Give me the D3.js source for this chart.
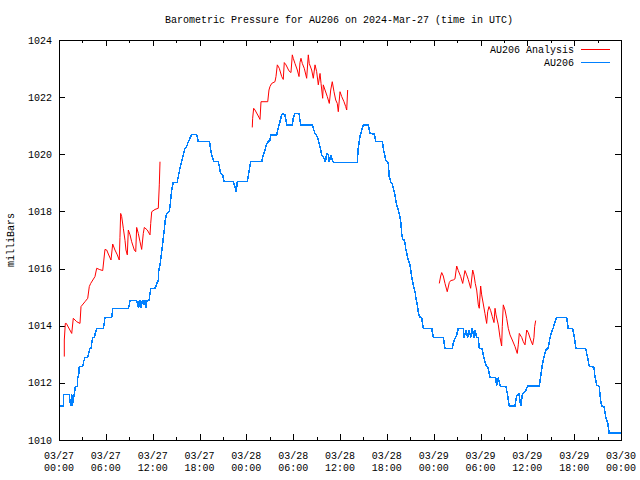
<!DOCTYPE html>
<html><head><meta charset="utf-8">
<script src="https://cdn.jsdelivr.net/npm/d3@7"></script>
<style>body{margin:0;background:#fff}svg{display:block}text{font-family:"Liberation Mono","DejaVu Sans Mono",monospace;font-size:10px;fill:#000}</style>
</head><body>
<script>
// hours since 2024-03-27 00:00 UTC, pressure in mbar
const blueHours = [0,0.55,0.55,1.32,1.41,1.5,1.63,1.7,1.83,1.96,2.09,2.34,2.34,2.52,2.6,3.04,3.16,3.33,3.68,3.84,3.97,4.1,4.23,4.32,4.52,4.65,4.83,5.68,5.8,5.89,6.75,6.83,6.88,8.88,9.01,9.1,9.95,10.08,10.21,10.29,10.47,10.54,10.67,10.8,10.93,11.02,11.15,11.27,11.53,11.66,11.75,12.3,12.52,12.72,12.72,12.94,13.07,13.23,13.36,13.49,13.62,13.8,14.13,14.31,14.44,14.57,14.64,15.15,15.28,15.5,15.72,15.92,16.14,16.36,16.56,16.78,17.0,17.64,17.85,19.28,19.41,19.56,19.86,20.41,20.54,20.71,20.97,21.14,22.33,22.55,22.71,22.84,24.12,24.38,24.56,25.97,26.17,26.39,26.61,27.03,27.12,27.89,28.09,28.31,28.53,28.73,28.95,29.17,29.89,30.01,30.23,30.75,30.96,32.45,32.58,32.8,33.09,33.27,33.44,33.65,33.95,34.12,34.29,34.5,34.63,34.81,35.01,35.14,38.21,38.34,38.56,38.78,38.98,39.62,39.84,40.39,40.61,41.42,41.63,41.89,42.19,42.31,42.49,42.7,42.83,43.04,43.26,43.47,43.68,43.81,43.9,44.03,44.2,44.33,44.45,44.75,44.96,45.18,45.39,45.61,45.73,45.9,46.03,46.16,46.47,46.67,47.75,47.95,49.23,49.45,50.38,50.51,50.73,50.95,51.15,51.79,51.92,52.14,52.36,52.56,52.74,52.95,53.16,53.29,53.51,53.72,53.84,54.19,54.36,54.57,54.79,54.99,55.21,55.94,56.07,56.28,56.5,56.71,57.26,57.43,57.69,58.42,58.64,58.93,59.15,59.35,59.83,60.04,61.53,61.71,61.91,62.17,62.39,62.68,62.9,63.12,63.32,63.54,63.76,65.04,65.24,65.81,65.97,66.23,67.47,67.68,67.93,68.54,68.66,68.88,69.21,69.39,69.52,69.82,70.03,70.29,70.49,72.0];
const blueValues = [1011.19,1011.19,1011.6,1011.6,1011.34,1011.19,1011.6,1011.19,1011.4,1011.6,1011.87,1011.87,1012.1,1012.28,1012.57,1012.57,1012.74,1012.89,1012.89,1013.06,1013.21,1013.21,1013.44,1013.59,1013.59,1013.73,1013.91,1013.91,1014.11,1014.28,1014.28,1014.47,1014.61,1014.61,1014.73,1014.88,1014.88,1014.76,1014.61,1014.88,1014.88,1014.61,1014.88,1014.88,1014.73,1014.88,1014.61,1014.88,1014.88,1015.13,1015.31,1015.31,1015.46,1015.6,1015.83,1016.13,1016.42,1016.77,1017.06,1017.35,1017.7,1017.93,1017.99,1018.4,1018.75,1018.93,1019.02,1019.02,1019.22,1019.52,1019.74,1019.98,1020.21,1020.27,1020.44,1020.56,1020.7,1020.7,1020.44,1020.44,1020.21,1019.98,1019.74,1019.74,1019.57,1019.33,1019.28,1019.04,1019.04,1018.87,1018.69,1019.04,1019.04,1019.45,1019.74,1019.74,1019.98,1020.15,1020.38,1020.5,1020.68,1020.68,1020.91,1021.14,1021.38,1021.43,1021.38,1021.03,1021.03,1021.26,1021.43,1021.43,1021.03,1021.03,1020.91,1020.73,1020.62,1020.44,1020.27,1019.98,1019.86,1019.72,1020.01,1020.0,1019.72,1019.98,1019.8,1019.72,1019.72,1020.21,1020.62,1020.85,1021.03,1021.03,1020.73,1020.71,1020.44,1020.44,1020.09,1019.78,1019.68,1019.22,1019.04,1018.98,1018.81,1018.58,1018.23,1018.05,1017.82,1017.58,1017.23,1017.02,1017.0,1016.88,1016.65,1016.3,1016.13,1015.72,1015.43,1015.19,1014.96,1014.73,1014.49,1014.32,1014.26,1013.91,1013.91,1013.59,1013.59,1013.21,1013.21,1013.38,1013.56,1013.67,1013.91,1013.91,1013.59,1013.85,1013.59,1013.85,1013.59,1013.91,1013.59,1013.85,1013.59,1013.59,1013.21,1013.19,1012.98,1012.74,1012.57,1012.51,1012.19,1012.19,1011.9,1012.19,1011.9,1011.87,1011.87,1011.63,1011.19,1011.19,1011.55,1011.61,1011.19,1011.58,1011.75,1011.89,1011.89,1012.22,1012.63,1012.94,1013.15,1013.23,1013.56,1013.79,1013.93,1014.14,1014.29,1014.29,1013.91,1013.89,1013.68,1013.21,1013.21,1012.94,1012.59,1012.54,1012.22,1011.93,1011.87,1011.4,1011.19,1011.17,1010.82,1010.61,1010.24,1010.24];

// Analysis series, three separate runs (gaps between them)
const redRun1Hours = [0.68,0.68,0.81,0.94,1.63,1.83,2.27,2.69,2.82,3.33,3.68,3.88,4.06,4.61,4.83,5.16,5.6,5.89,6.11,6.32,6.66,6.88,7.17,7.47,7.72,7.81,7.9,8.03,8.24,8.46,8.58,8.75,8.88,9.1,9.31,9.65,9.83,9.95,10.16,10.38,10.59,10.8,10.93,11.31,11.66,11.75,11.88,12.3,12.72,12.85,12.94];
const redRun1Values = [1012.92,1013.5,1014.08,1014.08,1013.73,1014.26,1014.14,1014.08,1014.67,1014.84,1014.96,1015.37,1015.48,1015.72,1016.01,1015.97,1015.93,1016.67,1016.65,1016.51,1016.3,1016.86,1016.65,1016.48,1016.3,1017.09,1017.93,1017.82,1017.41,1016.98,1016.65,1016.48,1017.35,1017.18,1016.94,1016.65,1016.59,1017.44,1017.23,1016.94,1016.67,1017.23,1017.44,1017.35,1017.18,1017.58,1017.99,1018.07,1018.11,1018.93,1019.74];
const redRun2Hours = [24.76,24.81,24.94,25.11,25.53,25.75,25.88,26.74,26.9,27.03,27.25,27.67,27.8,27.97,28.22,28.53,28.73,28.86,29.08,29.46,29.72,29.89,30.01,30.23,30.53,30.75,30.87,31.0,31.17,31.42,31.73,31.94,32.06,32.37,32.58,32.8,33.01,33.22,33.44,33.57,33.78,33.86,34.08,34.37,34.63,34.81,35.01,35.23,35.45,35.65,35.78,36.0,36.22,36.51,36.73,36.86,36.98];
const redRun2Values = [1020.94,1021.26,1021.61,1021.55,1021.34,1021.22,1021.84,1021.84,1022.25,1022.37,1022.48,1022.54,1022.72,1023.13,1023.01,1022.72,1022.62,1023.21,1023.13,1022.92,1022.86,1023.48,1023.36,1023.18,1022.95,1022.72,1023.21,1023.36,1023.18,1023.01,1022.66,1023.48,1023.18,1022.95,1022.66,1023.13,1022.89,1022.43,1022.83,1022.48,1021.96,1022.43,1022.25,1022.02,1021.78,1022.25,1022.54,1022.19,1021.9,1021.78,1021.49,1022.19,1022.02,1021.84,1021.67,1021.55,1022.25];
const redRun3Hours = [48.72,48.9,49.03,49.23,49.45,49.74,50.0,50.18,50.51,50.73,50.95,51.15,51.46,51.72,52.01,52.23,52.43,52.74,53.0,53.16,53.33,53.51,53.72,53.84,54.02,54.15,54.36,54.57,54.79,54.92,55.09,55.3,55.51,55.73,55.86,55.99,56.28,56.5,56.71,56.79,56.92,57.14,57.35,57.56,57.78,58.07,58.42,58.71,58.84,58.97,59.28,59.48,59.7,59.92,60.12,60.43,60.68,60.85,60.94,61.07];
const redRun3Values = [1015.48,1015.74,1015.86,1015.74,1015.48,1015.19,1015.51,1015.58,1015.6,1015.64,1016.09,1015.93,1015.72,1015.48,1015.93,1015.78,1015.62,1015.31,1015.95,1015.78,1015.48,1015.25,1014.73,1014.61,1015.39,1015.08,1014.76,1014.43,1014.08,1014.49,1014.67,1014.53,1014.32,1014.11,1014.61,1014.38,1014.03,1013.59,1013.29,1013.97,1014.73,1014.55,1014.26,1013.91,1013.68,1013.5,1013.27,1013.03,1013.33,1013.73,1013.59,1013.44,1013.33,1013.85,1013.76,1013.5,1013.33,1013.59,1013.97,1014.18];

const xTickHours = [0,6,12,18,24,30,36,42,48,54,60,66,72];
const xTickDates = ["03/27","03/27","03/27","03/27","03/28","03/28","03/28","03/28","03/29","03/29","03/29","03/29","03/30"];
const xTickTimes = ["00:00","06:00","12:00","18:00","00:00","06:00","12:00","18:00","00:00","06:00","12:00","18:00","00:00"];
const xMinorHours = [3,9,15,21,27,33,39,45,51,57,63,69];
const yTicks = [1010,1012,1014,1016,1018,1020,1022,1024];
const seriesNames = ["AU206 Analysis","AU206"];
const seriesColors = ["#ff0000","#0080ff"];
const titleText = "Barometric Pressure for AU206 on 2024-Mar-27 (time in UTC)";
const yLabel = "milliBars";

const W=640,H=480,L=59,R=621,T=40,B=440;
const svg=d3.select("body").append("svg").attr("width",W).attr("height",H);
const x=d3.scaleLinear().domain([0,72]).range([L,R]);
const y=d3.scaleLinear().domain([1010,1024]).range([B,T]);

const ax=svg.append("g").attr("shape-rendering","crispEdges").attr("stroke","#000").attr("stroke-width",1);
xTickHours.forEach(h=>{
  ax.append("line").attr("x1",Math.round(x(h))+0.5).attr("x2",Math.round(x(h))+0.5).attr("y1",B).attr("y2",B-6);
  ax.append("line").attr("x1",Math.round(x(h))+0.5).attr("x2",Math.round(x(h))+0.5).attr("y1",T).attr("y2",T+6);
});
xMinorHours.forEach(h=>{
  ax.append("line").attr("x1",Math.round(x(h))+0.5).attr("x2",Math.round(x(h))+0.5).attr("y1",B).attr("y2",B-3);
  ax.append("line").attr("x1",Math.round(x(h))+0.5).attr("x2",Math.round(x(h))+0.5).attr("y1",T).attr("y2",T+3);
});
yTicks.forEach(v=>{
  ax.append("line").attr("x1",L).attr("x2",L+6).attr("y1",Math.round(y(v))+0.5).attr("y2",Math.round(y(v))+0.5);
  ax.append("line").attr("x1",R).attr("x2",R-6).attr("y1",Math.round(y(v))+0.5).attr("y2",Math.round(y(v))+0.5);
});

const line=d3.line().x(d=>x(d[0])).y(d=>y(d[1]));
const pts=(hs,vs)=>hs.map((h,i)=>[h,vs[i]]);
const plot=svg.append("g");
plot.append("path").attr("d",line(pts(blueHours,blueValues))).attr("fill","none").attr("stroke",seriesColors[1]).attr("stroke-width",1.5).attr("shape-rendering","crispEdges");
[[redRun1Hours,redRun1Values],[redRun2Hours,redRun2Values],[redRun3Hours,redRun3Values]].forEach(([h,v])=>{
  plot.append("path").attr("d",line(pts(h,v))).attr("fill","none").attr("stroke",seriesColors[0]).attr("stroke-width",1);
});

svg.append("rect").attr("x",L+0.5).attr("y",T+0.5).attr("width",R-L).attr("height",B-T)
  .attr("fill","none").attr("stroke","#000").attr("shape-rendering","crispEdges");

yTicks.forEach(v=>{
  svg.append("text").attr("x",52).attr("y",y(v)+3.5).attr("text-anchor","end").text(v);
});
xTickHours.forEach((h,i)=>{
  svg.append("text").attr("x",x(h)).attr("y",459).attr("text-anchor","middle").text(xTickDates[i]);
  svg.append("text").attr("x",x(h)).attr("y",471).attr("text-anchor","middle").text(xTickTimes[i]);
});
svg.append("text").attr("x",339).attr("y",23).attr("text-anchor","middle").text(titleText);
svg.append("text").attr("transform","translate(14,240) rotate(-90)").attr("text-anchor","middle").text(yLabel);

seriesNames.forEach((n,i)=>{
  const ly=49.5+i*13;
  svg.append("text").attr("x",574).attr("y",ly+3.5).attr("text-anchor","end").text(n);
  svg.append("line").attr("x1",581).attr("x2",610).attr("y1",ly).attr("y2",ly).attr("stroke",seriesColors[i]).attr("stroke-width",1).attr("shape-rendering","crispEdges");
});
</script>
</body></html>
